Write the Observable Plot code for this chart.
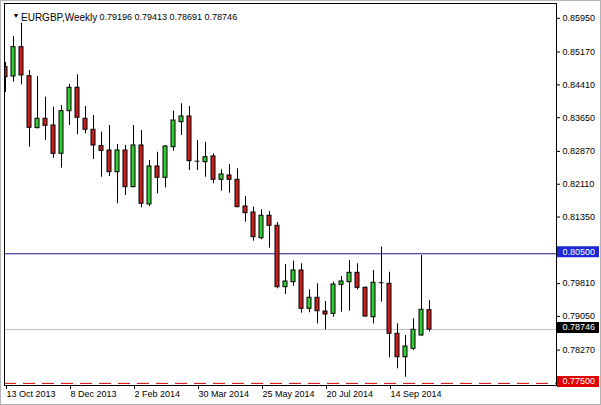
<!DOCTYPE html>
<html><head><meta charset="utf-8">
<script src="https://cdn.jsdelivr.net/npm/d3@7"></script>
<script src="https://cdn.jsdelivr.net/npm/@observablehq/plot@0.6"></script>
<style>
html,body{margin:0;padding:0;background:#fff;}
#chart svg{display:block;outline:1px solid #b4b4b4;outline-offset:-1px;}
</style></head><body><div id="chart"></div>
<script>
const symbol = "EURGBP,Weekly";
const lastQuote = [0.79196, 0.79413, 0.78691, 0.78746];

const open = [0.84820, 0.84604, 0.85283, 0.84611, 0.83408, 0.83625, 0.83470, 0.82815, 0.83801, 0.84343,
  0.83625, 0.83371, 0.82991, 0.82891, 0.82389, 0.82891, 0.82042, 0.83007, 0.81641, 0.82521,
  0.82259, 0.82968, 0.83547, 0.83679, 0.82644, 0.82621, 0.82753, 0.82213, 0.82313, 0.82213,
  0.81595, 0.81456, 0.80861, 0.81380, 0.81148, 0.79727, 0.79843, 0.80113, 0.79227, 0.79481,
  0.79164, 0.79111, 0.79782, 0.79843, 0.80060, 0.79713, 0.79032, 0.79829, 0.79805, 0.78648,
  0.78106, 0.78301, 0.78609, 0.79196];
const high = [0.84929, 0.85531, 0.85838, 0.84743, 0.84604, 0.84125, 0.83894, 0.83933, 0.84419, 0.84644,
  0.83910, 0.83702, 0.83315, 0.83470, 0.83030, 0.83007, 0.83470, 0.83354, 0.82660, 0.82852,
  0.83007, 0.83801, 0.83973, 0.83910, 0.83123, 0.83084, 0.82815, 0.82445, 0.82567, 0.82468,
  0.81826, 0.81579, 0.81519, 0.81479, 0.81225, 0.80252, 0.80329, 0.80268, 0.79667, 0.79805,
  0.79396, 0.79843, 0.79974, 0.80345, 0.80268, 0.79731, 0.80113, 0.80653, 0.80074, 0.78879,
  0.78609, 0.78995, 0.80461, 0.79413];
const low = [0.84234, 0.84473, 0.84412, 0.82968, 0.83394, 0.83123, 0.82713, 0.82482, 0.83470, 0.83255,
  0.83278, 0.82683, 0.82273, 0.82289, 0.81658, 0.81850, 0.82028, 0.81565, 0.81595, 0.81889,
  0.82028, 0.82875, 0.83239, 0.82428, 0.82428, 0.82273, 0.82121, 0.81949, 0.81903, 0.81565,
  0.81232, 0.80792, 0.80824, 0.80630, 0.79690, 0.79558, 0.79750, 0.79125, 0.79134, 0.78879,
  0.78741, 0.79032, 0.79148, 0.79171, 0.79667, 0.79032, 0.78879, 0.79380, 0.78092, 0.77838,
  0.77643, 0.78261, 0.78592, 0.78691];
const close = [0.84588, 0.85283, 0.84628, 0.83417, 0.83625, 0.83463, 0.82815, 0.83801, 0.84343, 0.83648,
  0.83371, 0.83007, 0.82884, 0.82389, 0.82891, 0.82042, 0.83007, 0.81658, 0.82521, 0.82259,
  0.82984, 0.83586, 0.83679, 0.82644, 0.82644, 0.82736, 0.82213, 0.82336, 0.82213, 0.81579,
  0.81440, 0.80884, 0.81380, 0.81148, 0.79727, 0.79859, 0.80113, 0.79227, 0.79481, 0.79171,
  0.79095, 0.79789, 0.79859, 0.80060, 0.79713, 0.79048, 0.79829, 0.79829, 0.78648, 0.78106,
  0.78354, 0.78741, 0.79204, 0.78746];

const dateTickIndex = [0, 8, 16, 24, 32, 40, 48];
const dateTickLabels = ["13 Oct 2013", "8 Dec 2013", "2 Feb 2014", "30 Mar 2014", "25 May 2014", "20 Jul 2014", "14 Sep 2014"];
const priceTicks = [0.85950, 0.85170, 0.84410, 0.83650, 0.82870, 0.82110, 0.81350, 0.79810, 0.79050, 0.78270];

const resistance = 0.80500;
const lastClose = 0.78746;
const support = 0.77500;

const W = 601, H = 405, mL = 4, mR = 45, mT = 3, mB = 20;
const frameW = W - mL - mR;
const f5 = d3.format(".5f");

const candles = open.map((o, i) => ({i, o, h: high[i], l: low[i], c: close[i]}));
const bodies = candles.filter(d => d.o !== d.c);
const dojis = candles.filter(d => d.o === d.c);
const levels = [
  {v: resistance, bg: "#1e28d2", fg: "#ffffff"},
  {v: lastClose, bg: "#000000", fg: "#ffffff"},
  {v: support, bg: "#e00000", fg: "#ffffff"}
];

const chart = Plot.plot({
  width: W, height: H,
  marginLeft: mL, marginRight: mR, marginTop: mT, marginBottom: mB,
  style: {fontFamily: "'Liberation Sans', Arial, sans-serif", fontSize: "9px", background: "#fff", color: "#000"},
  color: {type: "identity"},
  x: {domain: [-0.125, 68.875]},
  y: {domain: [0.77451, 0.86294]},
  marks: [
    Plot.ruleY([resistance], {stroke: "#1a1a8c"}),
    Plot.ruleY([lastClose], {stroke: "#c0c0c0"}),
    Plot.ruleY([support], {stroke: "#d40000", strokeDasharray: "12,7"}),
    Plot.ruleX(candles, {x: "i", y1: "l", y2: "h", stroke: "#000", clip: true}),
    Plot.rect(bodies, {x1: d => d.i - 0.25, x2: d => d.i + 0.25, y1: "o", y2: "c",
      fill: d => d.c > d.o ? "#32cd32" : "#c81e1e", stroke: "#000", clip: true}),
    Plot.ruleY(dojis, {y: "o", x1: d => d.i - 0.3, x2: d => d.i + 0.3, stroke: "#000"}),
    Plot.frame({stroke: "#000"}),
    Plot.axisY(priceTicks, {anchor: "right", tickSize: 3, tickPadding: 3, tickFormat: f5, label: null}),
    Plot.axisX(dateTickIndex, {anchor: "bottom", tickSize: 4, tickPadding: 1, label: null,
      tickFormat: d => dateTickLabels[dateTickIndex.indexOf(d)], textAnchor: "start", dx: 1}),
    Plot.ruleY(levels, {y: "v", stroke: "bg", strokeWidth: 11, insetLeft: frameW + 1, insetRight: -(mR - 2), dy: -2}),
    Plot.text(levels, {y: "v", text: d => f5(d.v), frameAnchor: "right", dx: 6, dy: -2, textAnchor: "start", fill: "fg"}),
    Plot.text(["\u25BC"], {frameAnchor: "top-left", dx: 8, dy: 10, textAnchor: "start", fontSize: 7, fill: "#000"}),
    Plot.text([symbol], {frameAnchor: "top-left", dx: 16.5, dy: 10, textAnchor: "start", fontSize: 10, fill: "#000"}),
    Plot.text([lastQuote.map(f5).join(" ")], {frameAnchor: "top-left", dx: 95, dy: 10, textAnchor: "start", fill: "#000"})
  ]
});
document.getElementById("chart").appendChild(chart);
</script>
</body></html>
